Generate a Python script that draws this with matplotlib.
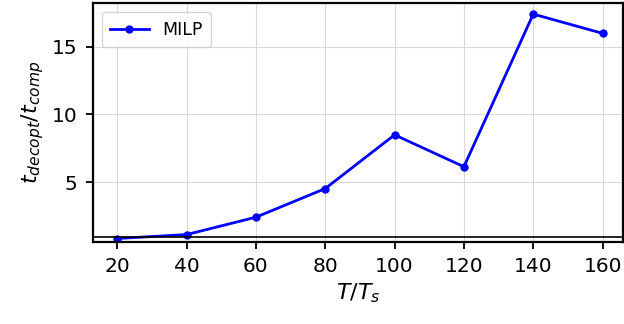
import matplotlib
matplotlib.use("Agg")
import matplotlib.pyplot as plt

# horizon length ratio vs. runtime ratio
T_ratio = [20, 40, 60, 80, 100, 120, 140, 160]
milp_ratio = [0.86, 1.15, 2.43, 4.54, 8.5, 6.15, 17.4, 15.98]

fig = plt.figure(figsize=(6.24, 3.24), dpi=100)
ax = fig.add_axes([0.149, 0.253, 0.85, 0.737])

ax.plot(T_ratio, milp_ratio, color="blue", marker="o", markersize=5,
        linewidth=2.0, label="MILP")
ax.axhline(1, color="black", linewidth=1.2)

ax.set_xlim(13, 166)
ax.set_ylim(0.6, 18.2)
ax.set_xticks(T_ratio)
ax.set_yticks([5, 10, 15])
ax.tick_params(labelsize=14.5, width=1.3, length=5, pad=6)
for s in ax.spines.values():
    s.set_linewidth(1.6)
ax.grid(True, color="#d8d8d8", linewidth=0.8)

ax.set_xlabel(r"$T/T_s$", fontsize=16, labelpad=4)
ax.set_ylabel(r"$t_{decopt}/t_{comp}$", fontsize=16, labelpad=4)
ax.legend(loc="upper left", fontsize=12.5, borderpad=0.5, handlelength=2.2)

fig.savefig("out.png", dpi=100)
